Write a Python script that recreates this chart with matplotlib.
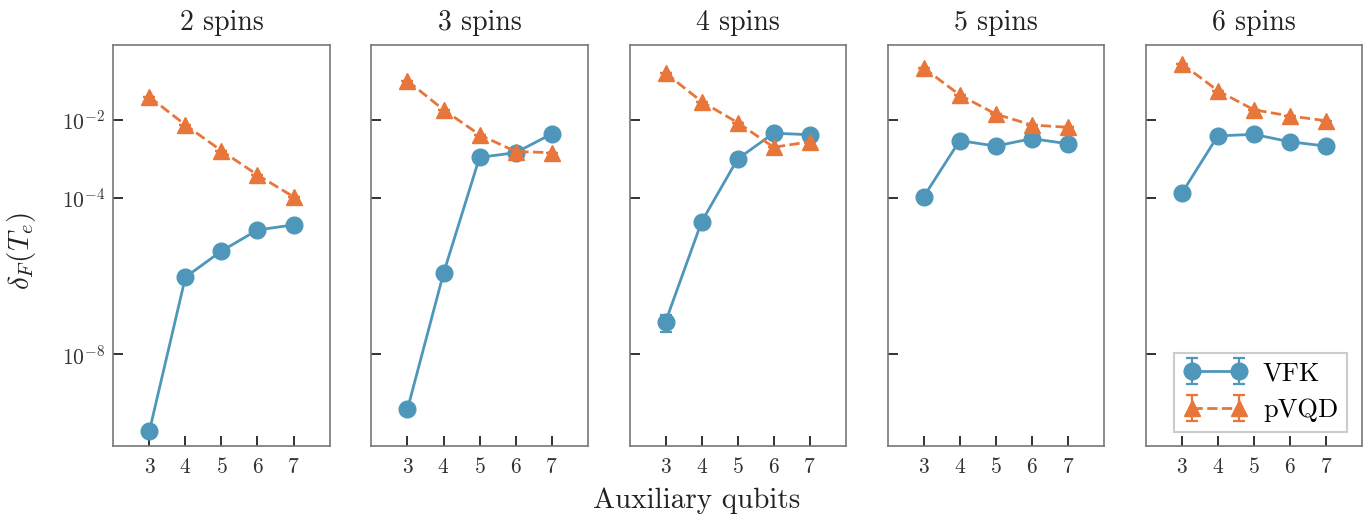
import matplotlib
matplotlib.use("Agg")
import matplotlib.pyplot as plt
import numpy as np

plt.rcParams['font.family'] = 'serif'
plt.rcParams['font.serif'] = ['cmr10', 'DejaVu Serif']
plt.rcParams['mathtext.fontset'] = 'cm'
plt.rcParams['axes.formatter.use_mathtext'] = True

# data (log10 of delta_F)
qubits = [3, 4, 5, 6, 7]
spins = ['2 spins', '3 spins', '4 spins', '5 spins', '6 spins']

vfk_log = [
    [-9.97, -6.03, -5.36, -4.82, -4.69],
    [-9.41, -5.93, -2.96, -2.84, -2.36],
    [-7.17, -4.61, -3.00, -2.34, -2.38],
    [-3.97, -2.53, -2.67, -2.48, -2.61],
    [-3.88, -2.41, -2.37, -2.56, -2.67],
]
pvqd_log = [
    [-1.41, -2.13, -2.79, -3.41, -3.97],
    [-1.00, -1.74, -2.38, -2.81, -2.84],
    [-0.80, -1.53, -2.07, -2.70, -2.56],
    [-0.67, -1.36, -1.85, -2.13, -2.19],
    [-0.56, -1.25, -1.74, -1.90, -2.02],
]
# relative error bars (only the 4 spins / 3 qubits point is visibly large)
vfk_relerr = [
    [0.0, 0.0, 0.0, 0.0, 0.0],
    [0.0, 0.0, 0.0, 0.0, 0.0],
    [0.45, 0.0, 0.0, 0.0, 0.0],
    [0.0, 0.0, 0.0, 0.0, 0.0],
    [0.0, 0.0, 0.0, 0.0, 0.0],
]
pvqd_relerr = [[0.0] * 5 for _ in range(5)]

blue = '#4e97bb'
orange = '#e8763a'

fig, axes = plt.subplots(1, 5, figsize=(13.66, 5.17), dpi=100, sharey=True)
fig.subplots_adjust(left=0.083, right=0.997, top=0.913, bottom=0.137, wspace=0.194)

for i, ax in enumerate(axes):
    v = 10 ** np.array(vfk_log[i])
    p = 10 ** np.array(pvqd_log[i])
    ax.errorbar(qubits, v, yerr=v * np.array(vfk_relerr[i]), color=blue, marker='o',
                markersize=12, linewidth=2, linestyle='-', capsize=4, capthick=1.6,
                elinewidth=1.6, label='VFK')
    ax.errorbar(qubits, p, yerr=p * np.array(pvqd_relerr[i]), color=orange, marker='^',
                markersize=12, linewidth=2, linestyle='--', capsize=4, capthick=1.6,
                elinewidth=1.6, label='pVQD')
    ax.set_yscale('log')
    ax.set_xlim(2, 8)
    ax.set_ylim(10 ** -10.36, 10 ** -0.08)
    ax.set_xticks(qubits)
    ax.set_yticks([1e-2, 1e-4, 1e-8])
    ax.minorticks_off()
    ax.tick_params(direction='in', length=7, width=1.3, labelsize=15.5, colors='#222222',
                   labelcolor='#333333')
    ax.tick_params(axis='x', pad=8)
    ax.tick_params(axis='y', pad=6)
    for s in ax.spines.values():
        s.set_color('#777777')
        s.set_linewidth(1.2)
    ax.set_title(spins[i], fontsize=20, pad=11, color='#222222')

leg = axes[-1].legend(loc='lower right', numpoints=2, fontsize=19, fancybox=False,
                      edgecolor='#cccccc', framealpha=1, borderpad=0.35, handlelength=2.4,
                      handletextpad=0.6, borderaxespad=0.55)
leg.get_frame().set_linewidth(1.5)

fig.text(0.016, 0.515, r'$\delta_F(T_e)$', rotation=90, ha='center', va='center',
         fontsize=21, color='#222222')
fig.text(0.51, 0.032, 'Auxiliary qubits', ha='center', va='center', fontsize=21,
         color='#222222')

fig.savefig('out.png', dpi=100)
